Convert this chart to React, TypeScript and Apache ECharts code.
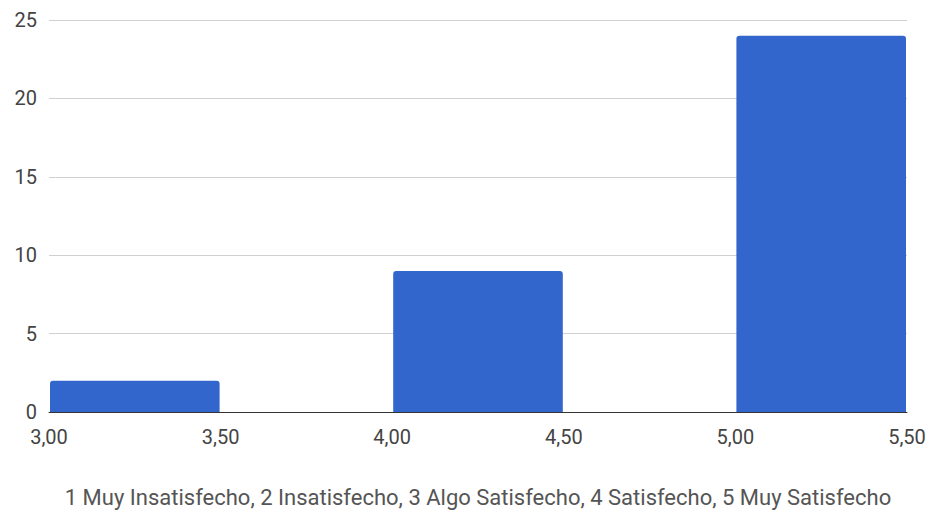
import React, { useEffect, useRef } from "react";
import * as echarts from "echarts";

const binStarts = [3.0, 4.0, 5.0];
const binEnds = [3.5, 4.5, 5.5];
const counts = [2, 9, 24];
const xTitle = "1 Muy Insatisfecho, 2 Insatisfecho, 3 Algo Satisfecho, 4 Satisfecho, 5 Muy Satisfecho";

export default function App() {
  const ref = useRef<HTMLDivElement>(null);
  useEffect(() => {
    if (!ref.current) return;
    const chart = echarts.init(ref.current, undefined, { renderer: "svg" });
    const data = binStarts.map((s, i) => [s, binEnds[i], counts[i]]);
    chart.setOption({
      animation: false,
      grid: { left: 49, right: 24, top: 20, bottom: 98, outerBoundsMode: "none", containLabel: false },
      xAxis: {
        type: "value",
        min: 3,
        max: 5.5,
        interval: 0.5,
        name: xTitle,
        nameLocation: "middle",
        nameGap: 74,
        nameTextStyle: { fontFamily: "Roboto", fontSize: 22, color: "#555" },
        axisLine: { show: true, lineStyle: { color: "#333", width: 1 } },
        axisTick: { show: false },
        splitLine: { show: false },
        axisLabel: {
          showMinLabel: true,
          showMaxLabel: true,
          margin: 15,
          fontFamily: "Roboto",
          fontSize: 20,
          color: "#444",
          formatter: (v: number) => v.toFixed(2).replace(".", ","),
        },
      },
      yAxis: {
        type: "value",
        min: 0,
        max: 25,
        interval: 5,
        axisLine: { show: false },
        axisTick: { show: false },
        splitLine: { lineStyle: { color: "#d0d0d0", width: 1 } },
        axisLabel: { margin: 12, fontFamily: "Roboto", fontSize: 20, color: "#444" },
      },
      series: [
        {
          type: "custom",
          data,
          encode: { x: [0, 1], y: 2 },
          renderItem: (params: any, api: any) => {
            const p0 = api.coord([api.value(0), api.value(2)]);
            const p1 = api.coord([api.value(1), 0]);
            return {
              type: "rect",
              shape: { x: p0[0] + 1, y: p0[1], width: p1[0] - p0[0] - 2, height: p1[1] - p0[1], r: [3, 3, 0, 0] },
              style: { fill: "#3366cc" },
            };
          },
          z: 1,
        },
      ],
    });
    return () => chart.dispose();
  }, []);
  return <div ref={ref} style={{ width: 931, height: 510, position: "absolute", left: 0, top: 0 }} />;
}
